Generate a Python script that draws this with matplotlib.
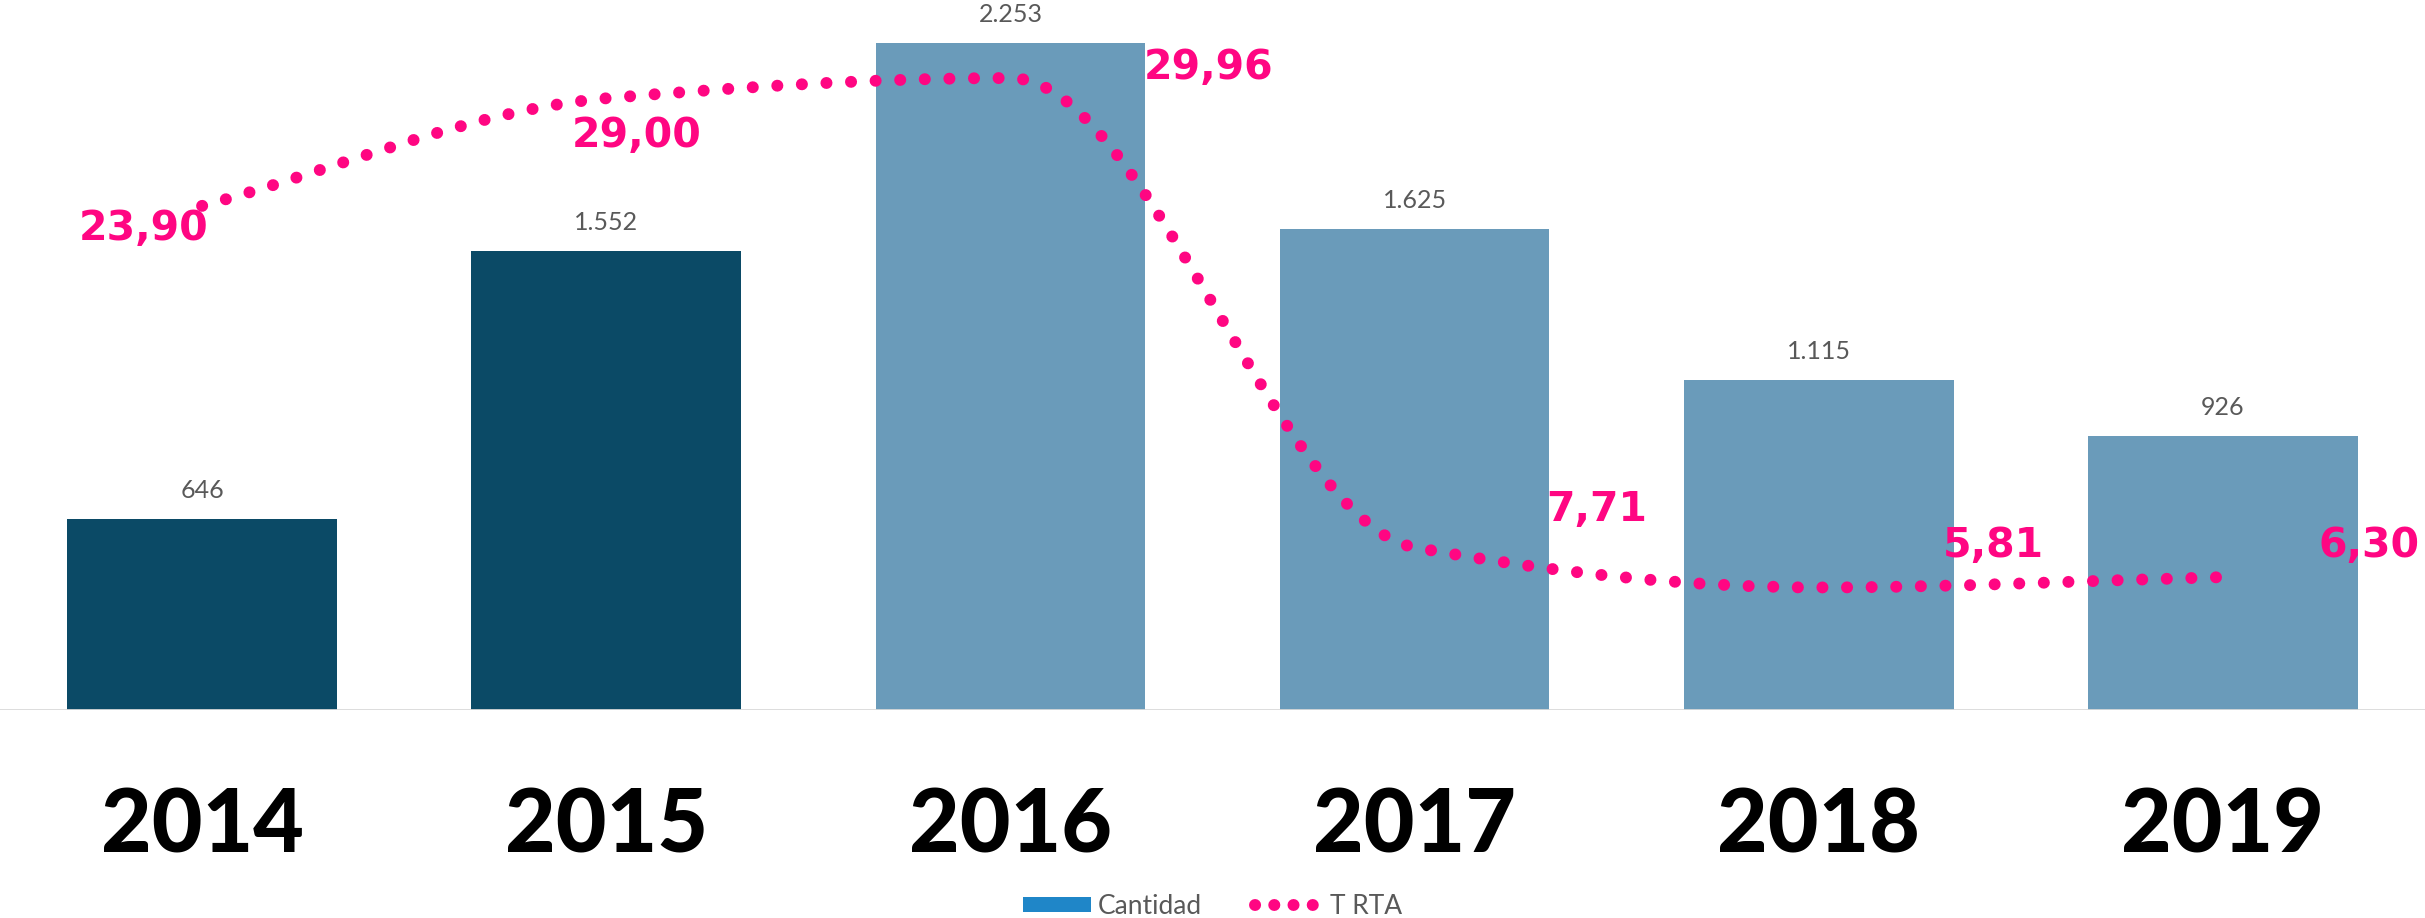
import numpy as np
import matplotlib
matplotlib.use("Agg")
import matplotlib.pyplot as plt
from matplotlib.path import Path
from matplotlib.patches import PathPatch, Patch
from matplotlib.lines import Line2D

# ---- data ----
years = ["2014", "2015", "2016", "2017", "2018", "2019"]
cantidad = [646, 1552, 2253, 1625, 1115, 926]
t_rta = [23.90, 29.00, 29.96, 7.71, 5.81, 6.30]
t_rta_labels = ["23,90", "29,00", "29,96", "7,71", "5,81", "6,30"]
cantidad_labels = ["646", "1.552", "2.253", "1.625", "1.115", "926"]

# ---- style ----
dark = "#0b4a66"
light = "#6a9bba"
pink = "#ff0682"
bar_colors = [dark, dark, light, light, light, light]
# label offsets in pixels (dx, dy) relative to each line point, plus alignment
lbl_off = [(-58, -23, "center"), (30, -38, "center"), (198, 10, "center"),
           (182, 37, "center"), (175, 41, "center"), (197, 31, "right")]

W, H, DPI = 24.25, 9.18, 100
fig = plt.figure(figsize=(W, H), dpi=DPI)
base_px = 710
ax = fig.add_axes([0, (918 - base_px) / 918, 1, base_px / 918])
ax2 = ax.twinx()
ax.set_zorder(1)
ax2.set_zorder(2)
ax2.patch.set_visible(False)

x = np.arange(len(years))
ax.bar(x, cantidad, width=0.667, color=bar_colors, zorder=2)
ax.set_xlim(-0.5, 5.5)
ax.set_ylim(0, 2400)
ax2.set_ylim(0, 33.66)

for xi, v, s in zip(x, cantidad, cantidad_labels):
    ax.annotate(s, (xi, v), xytext=(0, 17 * 0.72), textcoords="offset points",
                ha="center", va="bottom", fontsize=18, family="Lato",
                fontweight="normal", color="#595959")

# baseline
ax.axhline(0, color="#d9d9d9", lw=2, zorder=3)

for a in (ax, ax2):
    for sp in a.spines.values():
        sp.set_visible(False)
    a.set_yticks([])
ax2.tick_params(length=0)

ax.set_xticks(x)
ax.set_xticklabels(years, fontsize=63, family="Lato", fontweight="black", color="black")
ax.tick_params(axis="x", length=0, pad=55)

# ---- smooth line (monotone cubic Hermite drawn as Bezier) ----
y = np.array(t_rta, dtype=float)
xf = x.astype(float)
h = np.diff(xf)
d = np.diff(y) / h
m = np.zeros_like(y)
for i in range(1, len(y) - 1):
    if d[i - 1] * d[i] > 0:
        m[i] = 2.0 / (1.0 / d[i - 1] + 1.0 / d[i])
m[0] = d[0]
m[-1] = d[-1]
verts = [(xf[0], y[0])]
codes = [Path.MOVETO]
for i in range(len(y) - 1):
    verts += [(xf[i] + h[i] / 3, y[i] + m[i] * h[i] / 3),
              (xf[i + 1] - h[i] / 3, y[i + 1] - m[i + 1] * h[i] / 3),
              (xf[i + 1], y[i + 1])]
    codes += [Path.CURVE4] * 3
lw = 8.6
dots = (0, (0.01, 2.05))
pp = PathPatch(Path(verts, codes), fill=False, edgecolor=pink, lw=lw,
               linestyle=dots, capstyle="round", transform=ax2.transData, zorder=4)
ax2.add_patch(pp)

for xi, v, s, (dx, dy, ha) in zip(x, t_rta, t_rta_labels, lbl_off):
    ax2.annotate(s, (xi, v), xytext=(dx * 0.72, dy * 0.72), textcoords="offset points",
                 ha=ha, va="center", fontsize=29.5, fontweight="bold",
                 family="DejaVu Sans", color=pink, annotation_clip=False)

handles = [Patch(facecolor="#1f86c8", edgecolor="none"),
           Line2D([0], [0], color=pink, lw=lw, linestyle=(0, (0.01, 1.6)), dash_capstyle="round")]
fig.legend(handles, ["Cantidad", "T RTA"], loc="center", bbox_to_anchor=(0.5, 1 - 906 / 918),
           ncol=2, frameon=False, prop={"family": "Lato", "weight": "normal", "size": 19},
           labelcolor="#595959", handlelength=2.6, handleheight=0.5, columnspacing=2.0,
           handletextpad=0.25)

fig.savefig("out.png", dpi=DPI)
